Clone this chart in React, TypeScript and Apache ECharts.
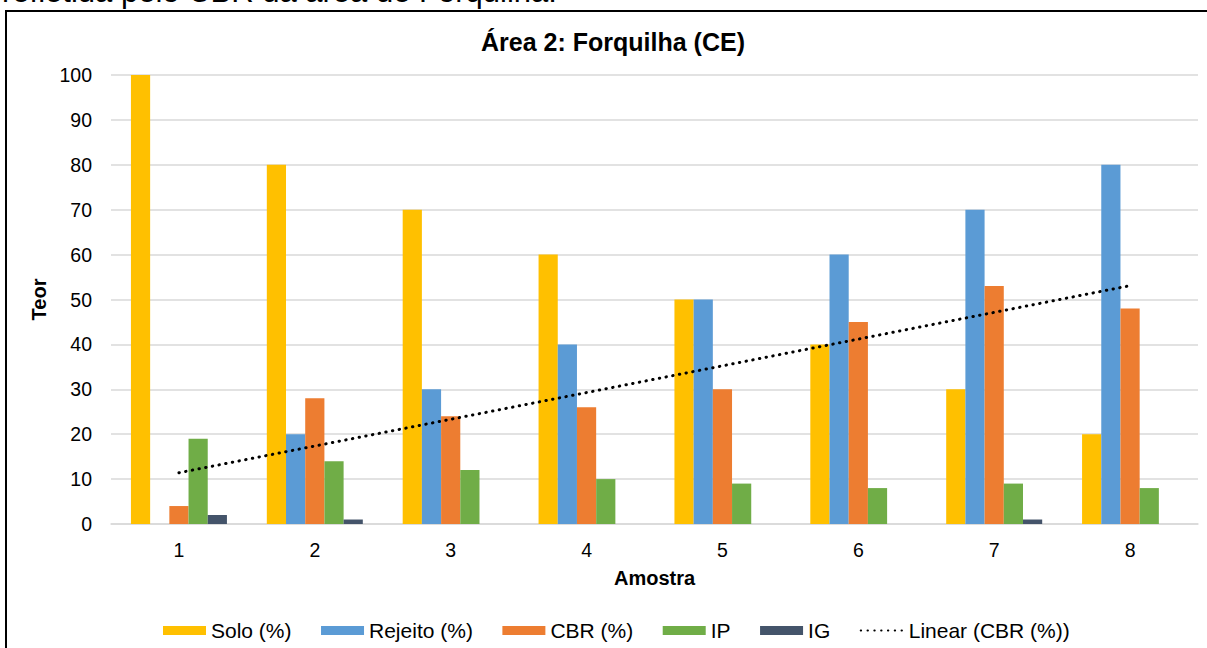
import React, { useEffect, useRef } from "react";
import * as echarts from "echarts";

const categories = ["1", "2", "3", "4", "5", "6", "7", "8"];
const solo = [100, 80, 70, 60, 50, 40, 30, 20];
const rejeito = [0, 20, 30, 40, 50, 60, 70, 80];
const cbr = [4, 28, 24, 26, 30, 45, 53, 48];
const ip = [19, 14, 12, 10, 9, 8, 9, 8];
const ig = [2, 1, 0, 0, 0, 0, 1, 0];
const yTicks = { min: 0, max: 100, interval: 10 };

// Excel-style linear trendline (least squares) of the CBR series
function linearTrend(values: number[]): number[] {
  const n = values.length;
  const xs = values.map((_, i) => i + 1);
  const mx = xs.reduce((a, b) => a + b, 0) / n;
  const my = values.reduce((a, b) => a + b, 0) / n;
  let sxy = 0;
  let sxx = 0;
  for (let i = 0; i < n; i++) {
    sxy += (xs[i] - mx) * (values[i] - my);
    sxx += (xs[i] - mx) * (xs[i] - mx);
  }
  const slope = sxy / sxx;
  const icpt = my - slope * mx;
  return xs.map((x) => +(icpt + slope * x).toFixed(3));
}

const FONT = "'Liberation Sans', Arial, sans-serif";

export default function App() {
  const ref = useRef<HTMLDivElement>(null);
  useEffect(() => {
    if (!ref.current) return;
    const chart = echarts.init(ref.current, null, { renderer: "svg" });
    const barW = 19.2;
    const bar = (name: string, data: number[], color: string) => ({
      name,
      type: "bar",
      data,
      barWidth: barW,
      barGap: "0%",
      itemStyle: { color },
      emphasis: { disabled: true },
    });
    chart.setOption({
      animation: false,
      backgroundColor: "#ffffff",
      textStyle: { fontFamily: FONT },
      title: {
        text: "Área 2: Forquilha (CE)",
        left: 608,
        textAlign: "center",
        top: 24,
        textStyle: { fontFamily: FONT, fontSize: 25, fontWeight: "bold", color: "#000" },
      },
      grid: { left: 111, right: 9, top: 75, bottom: 124, containLabel: false },
      legend: {
        top: 620,
        left: 163,
        padding: 0,
        itemWidth: 43,
        itemHeight: 9,
        itemGap: 29.5,
        textStyle: { fontFamily: FONT, fontSize: 21, color: "#000" },
        data: [
          { name: "Solo (%)", icon: "rect" },
          { name: "Rejeito (%)", icon: "rect" },
          { name: "CBR (%)", icon: "rect" },
          { name: "IP", icon: "rect" },
          { name: "IG", icon: "rect" },
          { name: "Linear (CBR (%))", itemStyle: { opacity: 0 } },
        ],
      },
      xAxis: {
        type: "category",
        data: categories,
        name: "Amostra",
        nameLocation: "middle",
        nameGap: 44,
        nameTextStyle: { fontFamily: FONT, fontSize: 20, fontWeight: "bold", color: "#000" },
        axisLine: { lineStyle: { color: "#d9d9d9", width: 1.5 } },
        axisTick: { show: false },
        axisLabel: { margin: 16, fontFamily: FONT, fontSize: 19.5, color: "#000" },
      },
      yAxis: {
        type: "value",
        min: yTicks.min,
        max: yTicks.max,
        interval: yTicks.interval,
        name: "Teor",
        nameLocation: "middle",
        nameGap: 58,
        nameRotate: 90,
        nameTextStyle: { fontFamily: FONT, fontSize: 20, fontWeight: "bold", color: "#000" },
        axisLine: { show: false },
        axisTick: { show: false },
        splitLine: { lineStyle: { color: "#d9d9d9", width: 1.5 } },
        axisLabel: { margin: 19, fontFamily: FONT, fontSize: 19.5, color: "#000" },
      },
      graphic: [
        {
          type: "text",
          left: 2,
          top: -24,
          style: {
            text: "refletida pelo CBR da área de Forquilha.",
            font: `31px ${FONT}`,
            fill: "#000",
          },
          silent: true,
        },
        {
          type: "rect",
          shape: { x: 6, y: 11, width: 1300, height: 800 },
          style: { fill: "none", stroke: "#000", lineWidth: 2 },
          silent: true,
          z: 100,
        },
      ],
      series: [
        bar("Solo (%)", solo, "#FFC000"),
        bar("Rejeito (%)", rejeito, "#5B9BD5"),
        bar("CBR (%)", cbr, "#ED7D31"),
        bar("IP", ip, "#70AD47"),
        bar("IG", ig, "#44546A"),
        {
          name: "Linear (CBR (%))",
          type: "line",
          data: linearTrend(cbr),
          symbol: "none",
          z: 10,
          itemStyle: { color: "#000" },
          lineStyle: { color: "#000", width: 3, type: [0.4, 6.4], cap: "round" },
          emphasis: { disabled: true },
        },
      ],
    });
    return () => chart.dispose();
  }, []);
  return (
    <div
      ref={ref}
      style={{ position: "fixed", left: 0, top: 0, width: 1207, height: 648, background: "#fff" }}
    />
  );
}
